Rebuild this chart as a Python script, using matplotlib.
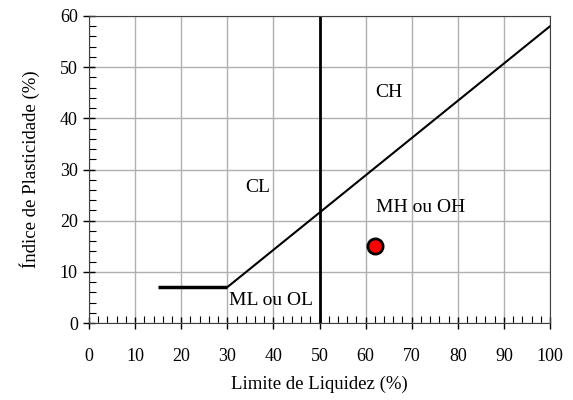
import numpy as np
import matplotlib.pyplot as plt
from matplotlib.ticker import MultipleLocator

plt.rcParams['font.family'] = ['Liberation Serif', 'DejaVu Serif']

# linha A (limitada em baixo pelo patamar IP = 7)
a_line_ll = [30, 100]
a_line_ip = [7, 58]
plateau_ll = [15, 30]
plateau_ip = [7, 7]
ll_limit = 50

# amostra
sample_ll = [62]
sample_ip = [15]

zones = ["CH", "CL", "MH ou OH", "ML ou OL"]
zone_x = [65, 36.5, 72, 39.5]
zone_y = [45, 26.5, 22.5, 4.3]

fig = plt.figure(figsize=(5.73, 4.0), dpi=100)
ax = fig.add_axes([0.1553, 0.1925, 0.8046, 0.7675])

ax.plot(a_line_ll, a_line_ip, color="black", lw=1.5)
ax.plot(plateau_ll, plateau_ip, color="black", lw=2.5, solid_capstyle="butt")
ax.axvline(ll_limit, color="black", lw=2)
ax.scatter(sample_ll, sample_ip, s=120, color="red", edgecolor="black", linewidth=2, zorder=5)

for name, x, y in zip(zones, zone_x, zone_y):
    ax.text(x, y, name, ha="center", va="center", fontsize=14)

ax.set_xlim(0, 100)
ax.set_ylim(0, 60)
ax.xaxis.set_major_locator(MultipleLocator(10))
ax.yaxis.set_major_locator(MultipleLocator(10))
ax.xaxis.set_minor_locator(MultipleLocator(2))
ax.yaxis.set_minor_locator(MultipleLocator(2))
ax.tick_params(which="major", direction="inout", length=8, width=1, labelsize=13, pad=14)
ax.tick_params(which="minor", direction="in", length=5, width=0.8)
ax.tick_params(axis="y", pad=4)
ax.grid(which="major", color="#b0b0b0", lw=1)
ax.set_axisbelow(True)
for s in ax.spines.values():
    s.set_color("#404040")

ax.set_xlabel("Limite de Liquidez (%)", fontsize=13.5, labelpad=8)
ax.set_ylabel("Índice de Plasticidade (%)", fontsize=13.5, labelpad=14)

fig.savefig("out.png", dpi=100)
